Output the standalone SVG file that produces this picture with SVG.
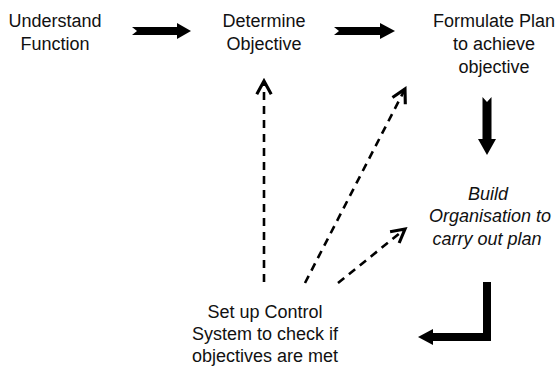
<svg xmlns="http://www.w3.org/2000/svg" width="557" height="370" viewBox="0 0 557 370">
<defs>
<style>
.t{font-family:"Liberation Sans",Arial,sans-serif;font-size:18px;fill:#111;text-anchor:middle}
.i{font-style:italic}
.big{fill:#000}
.dash{fill:none;stroke:#000;stroke-width:2.6;stroke-dasharray:8 6}
</style>
<marker id="ah" markerUnits="userSpaceOnUse" markerWidth="20" markerHeight="20" viewBox="-14 -9 16 18" refX="0" refY="0" orient="auto">
<path d="M-12,-6.5 L0,0 L-12,6.5" fill="none" stroke="#000" stroke-width="2.8" stroke-linejoin="miter"/>
</marker>
</defs>
<rect width="557" height="370" fill="#fff"/>
<g id="understand">
<text class="t" x="55" y="27">Understand</text>
<text class="t" x="55" y="50">Function</text>
</g>
<g id="determine">
<text class="t" x="264" y="27">Determine</text>
<text class="t" x="264" y="50">Objective</text>
</g>
<g id="formulate">
<text class="t" x="494" y="27">Formulate Plan</text>
<text class="t" x="494" y="50">to achieve</text>
<text class="t" x="494" y="73">objective</text>
</g>
<g id="build">
<text class="t i" x="488" y="200">Build</text>
<text class="t i" x="490" y="222">Organisation to</text>
<text class="t i" x="487" y="245">carry out plan</text>
</g>
<g id="control">
<text class="t" x="265" y="318">Set up Control</text>
<text class="t" x="265" y="340">System to check if</text>
<text class="t" x="265" y="362">objectives are met</text>
</g>
<g id="connectors">
<polygon class="big" points="132,27 177,27 177,23 191,31 177,39 177,35 132,35 137,31"/>
<polygon class="big" points="334,27 380,27 380,23 395,31 380,39 380,35 334,35 339,31"/>
<polygon class="big" points="482.5,97 487,102 491.5,97 491.5,139 496,139 487,155 478,139 482.5,139"/>
<polygon class="big" points="491,282 491,341 433,341 433,345 418,337 433,329 433,333 483,333 483,282"/>
<path class="dash" d="M264,282 L264,81" marker-end="url(#ah)"/>
<path class="dash" d="M305,283 L405,89" marker-end="url(#ah)"/>
<path class="dash" d="M338,283 L405,229" marker-end="url(#ah)"/>
</g>
</svg>
